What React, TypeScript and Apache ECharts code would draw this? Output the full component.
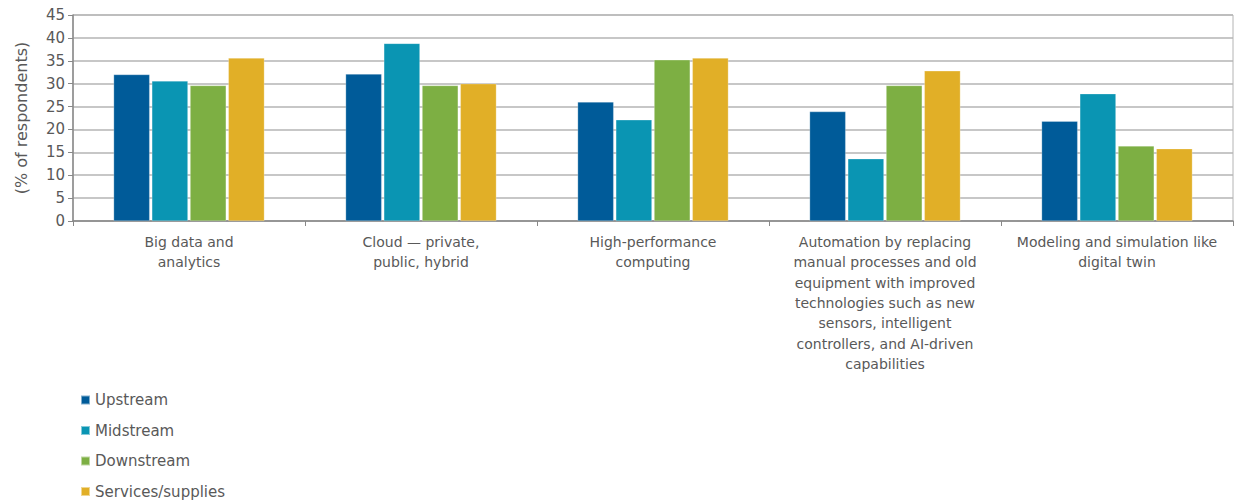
import React, { useEffect, useRef } from "react";
import * as echarts from "echarts";

const categories = [
  "Big data and\nanalytics",
  "Cloud — private,\npublic, hybrid",
  "High-performance\ncomputing",
  "Automation by replacing\nmanual processes and old\nequipment with improved\ntechnologies such as new\nsensors, intelligent\ncontrollers, and AI-driven\ncapabilities",
  "Modeling and simulation like\ndigital twin",
];
const upstream = [32.0, 32.1, 26.0, 23.9, 21.8];
const midstream = [30.6, 38.8, 22.1, 13.6, 27.8];
const downstream = [29.6, 29.6, 35.2, 29.6, 16.4];
const services = [35.6, 30.0, 35.6, 32.8, 15.8];
const seriesNames = ["Upstream", "Midstream", "Downstream", "Services/supplies"];
const colors = ["#005B99", "#0A95B3", "#7DAF43", "#E1AF27"];

const FONT = "DejaVu Sans";
const TEXT = "#595959";

export default function App() {
  const ref = useRef<HTMLDivElement>(null);
  useEffect(() => {
    if (!ref.current) return;
    const chart = echarts.init(ref.current, undefined, { renderer: "svg" });
    const data = [upstream, midstream, downstream, services];
    chart.setOption({
      animation: false,
      grid: {
        left: 73,
        right: 10,
        top: 15,
        bottom: 283,
        show: true,
        borderColor: "#b4b4b4",
        borderWidth: 1,
        containLabel: false,
      },
      legend: {
        orient: "vertical",
        left: 80,
        top: 392,
        height: 112,
        padding: 0,
        itemWidth: 9,
        itemHeight: 9,
        itemGap: 14.5,
        icon: "rect",
        textStyle: { color: TEXT, fontFamily: FONT, fontSize: 15, lineHeight: 16 },
        data: seriesNames,
      },
      xAxis: {
        type: "category",
        data: categories,
        axisLine: { show: true, lineStyle: { color: "#888", width: 1.5 } },
        axisTick: { show: true, length: 5, lineStyle: { color: "#888" } },
        axisLabel: {
          color: TEXT,
          fontFamily: FONT,
          fontSize: 14,
          lineHeight: 20.3,
          margin: 11,
          interval: 0,
          align: "center",
        },
      },
      yAxis: {
        type: "value",
        min: 0,
        max: 45,
        interval: 5,
        name: "(% of respondents)",
        nameLocation: "middle",
        nameGap: 44,
        nameTextStyle: { color: TEXT, fontFamily: FONT, fontSize: 16 },
        axisLine: { show: true, lineStyle: { color: "#888", width: 1.5 } },
        axisTick: { show: true, length: 5, lineStyle: { color: "#888" } },
        axisLabel: { color: TEXT, fontFamily: FONT, fontSize: 15, margin: 8 },
        splitLine: { show: true, lineStyle: { color: "#b4b4b4", width: 1.5 } },
      },
      series: seriesNames.map((name, i) => ({
        name,
        type: "bar",
        data: data[i],
        barGap: "6%",
        barCategoryGap: "35%",
        itemStyle: { color: colors[i], borderColor: "rgba(255,255,255,0.5)", borderWidth: 0.5 },
      })),
    });
    return () => chart.dispose();
  }, []);
  return (
    <div
      ref={ref}
      style={{ position: "absolute", left: 0, top: 0, width: 1243, height: 504, overflow: "hidden" }}
    />
  );
}
